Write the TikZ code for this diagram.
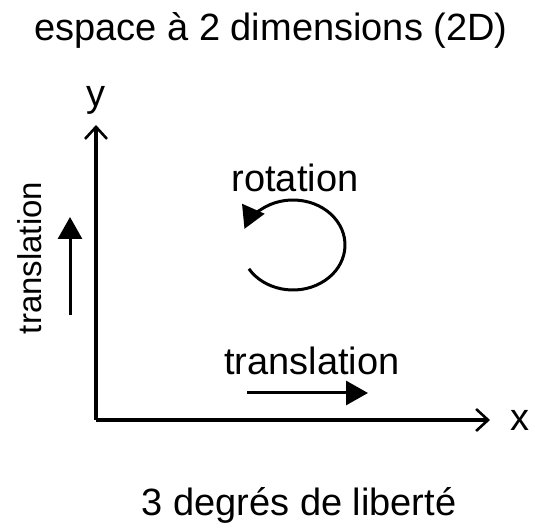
\documentclass[tikz,border=0pt]{standalone}
\usepackage{fontspec}
\setmainfont{Liberation Sans}
\usetikzlibrary{arrows.meta,positioning}

\tikzset{lbl/.style={font=\fontsize{19}{23}\selectfont, inner sep=0pt},
         axis/.style={line width=1.6pt, -{Straight Barb[length=6pt,width=11pt,line width=1.3pt]}},
         move/.style={line width=1.5pt, -{Triangle[length=11pt,width=12pt]}}}

\begin{document}
\begin{tikzpicture}[x=0.5pt,y=0.5pt]
\useasboundingbox (0,0) rectangle (535,-528);

\node[lbl] (title) at (271,-30) {espace à 2 dimensions (2D)};

% axes
\coordinate (origin) at (96,-420);
\coordinate (ytip)   at (96,-125);
\coordinate (xtip)   at (490,-420);
\draw[axis] (origin) -- (ytip);
\draw[axis] (origin) -- (xtip);
\node[lbl] (ylabel) at (96,-100) {y};
\node[lbl] (xlabel) at (520,-420) {x};

% translation along y
\coordinate (ty0) at (70,-315);
\coordinate (ty1) at (70,-217);
\draw[move] (ty0) -- (ty1);
\node[lbl, rotate=90, font=\fontsize{16.5}{20}\selectfont] (tylabel) at (30,-258) {translation};

% rotation
\coordinate (rotc) at (293,-245);
\node[lbl] (rotlabel) at (295,-178) {rotation};
\draw[move] ([shift={(212:52 and 45)}]rotc)
  arc[start angle=212, end angle=519, x radius=52, y radius=45];

% translation along x
\coordinate (tx0) at (247,-393);
\coordinate (tx1) at (368,-393);
\node[lbl] (txlabel) at (312,-361) {translation};
\draw[move] (tx0) -- (tx1);

\node[lbl] (dof) at (299,-505) {3 degrés de liberté};

\end{tikzpicture}
\end{document}
